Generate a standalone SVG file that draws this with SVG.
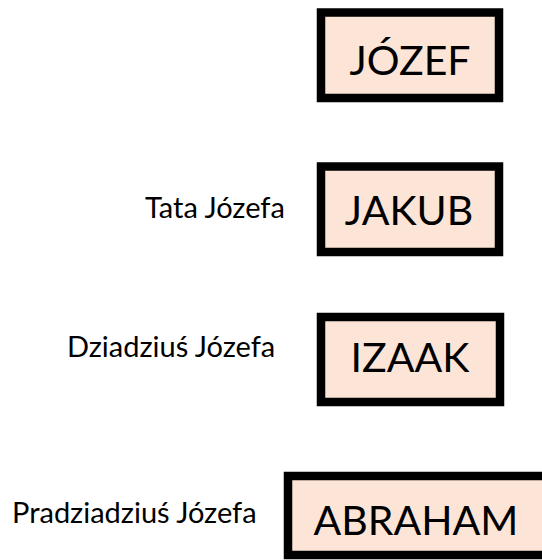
<svg xmlns="http://www.w3.org/2000/svg" width="542" height="560" viewBox="0 0 542 560">
<style>
.box{fill:#FCE5D7;stroke:#000;stroke-width:8.5}
.name{font-family:Lato,"Liberation Sans",sans-serif;font-size:41px;fill:#000;text-anchor:middle}
.lbl{font-family:Lato,"Liberation Sans",sans-serif;font-size:29px;fill:#000}
</style>
<rect width="542" height="560" fill="#fff"/>
<g id="jozef">
<rect class="box" x="321" y="12.5" width="178" height="85.5"/>
<text class="name" x="410" y="75">JÓZEF</text>
</g>
<g id="jakub">
<rect class="box" x="321" y="166.5" width="178" height="85.5"/>
<text class="name" x="409" y="225">JAKUB</text>
<text class="lbl" x="145" y="218">Tata Józefa</text>
</g>
<g id="izaak">
<rect class="box" x="321" y="317" width="179" height="85"/>
<text class="name" x="410" y="372">IZAAK</text>
<text class="lbl" x="67" y="357">Dziadziuś Józefa</text>
</g>
<g id="abraham">
<rect class="box" x="288" y="476" width="272" height="79"/>
<text class="name" x="416" y="535">ABRAHAM</text>
<text class="lbl" x="12" y="523">Pradziadziuś Józefa</text>
</g>
</svg>
